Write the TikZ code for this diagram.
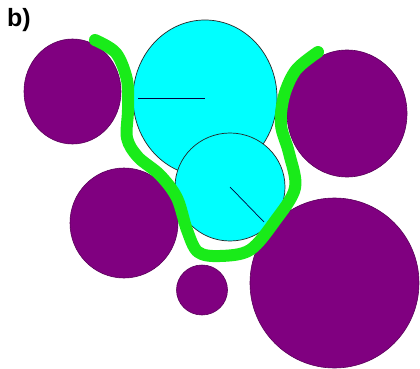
\documentclass[tikz,border=0pt]{standalone}
\usepackage{fontspec}
\setmainfont{Liberation Sans}
\definecolor{plum}{RGB}{128,0,128}
\definecolor{plumedge}{RGB}{90,0,90}
\definecolor{aqua}{RGB}{0,255,255}
\definecolor{lime}{RGB}{25,235,25}
\begin{document}
\begin{tikzpicture}[x=1pt,y=-1pt,
  purpleball/.style={fill=plum, draw=plumedge, line width=0.6pt},
  cyanball/.style={fill=aqua, draw=black!85, line width=0.7pt},
  radiusline/.style={draw=black!75!blue, line width=0.7pt},
  boundary/.style={draw=lime, line width=12pt, line cap=round, line join=round},
  tag/.style={font=\bfseries\fontsize{25}{25}\selectfont, inner sep=0pt, anchor=base west}]
\useasboundingbox (0,0) rectangle (420,369);
\fill[white] (0,0) rectangle (420,369);
% purple circles
\path[purpleball] (72.5,91.5) ellipse [x radius=48.5pt, y radius=52.5pt];
\path[purpleball] (347,113.5) ellipse [x radius=60pt, y radius=63.5pt];
\path[purpleball] (124,223) ellipse [x radius=54pt, y radius=55pt];
\path[purpleball] (202,290) ellipse [x radius=25.5pt, y radius=25pt];
\path[purpleball] (334.5,283) ellipse [x radius=84.5pt, y radius=85pt];
% cyan circles
\coordinate (bigc) at (205,98);
\coordinate (bigr) at (138,98);
\coordinate (smallc) at (230,187);
\coordinate (smallr) at (264,222);
\path[cyanball] (bigc) ellipse [x radius=72pt, y radius=78pt];
\path[cyanball] (smallc) ellipse [x radius=55pt, y radius=54pt];
\draw[radiusline] (bigr) -- (bigc);
\draw[radiusline] (smallc) -- (smallr);
% green boundary
\draw[boundary] plot[smooth, tension=0.55] coordinates {
  (95,40) (116,53) (127,80) (128,110) (127,138) (138,157) (160,175) (177,198)
  (187,230) (198,252) (220,256) (250,250) (275,221) (295,188)
  (289,153) (281,125) (284,96) (296,70) (318,52)};
% label
\node[tag] (lbl) at (7,27) {b)};
\end{tikzpicture}
\end{document}
